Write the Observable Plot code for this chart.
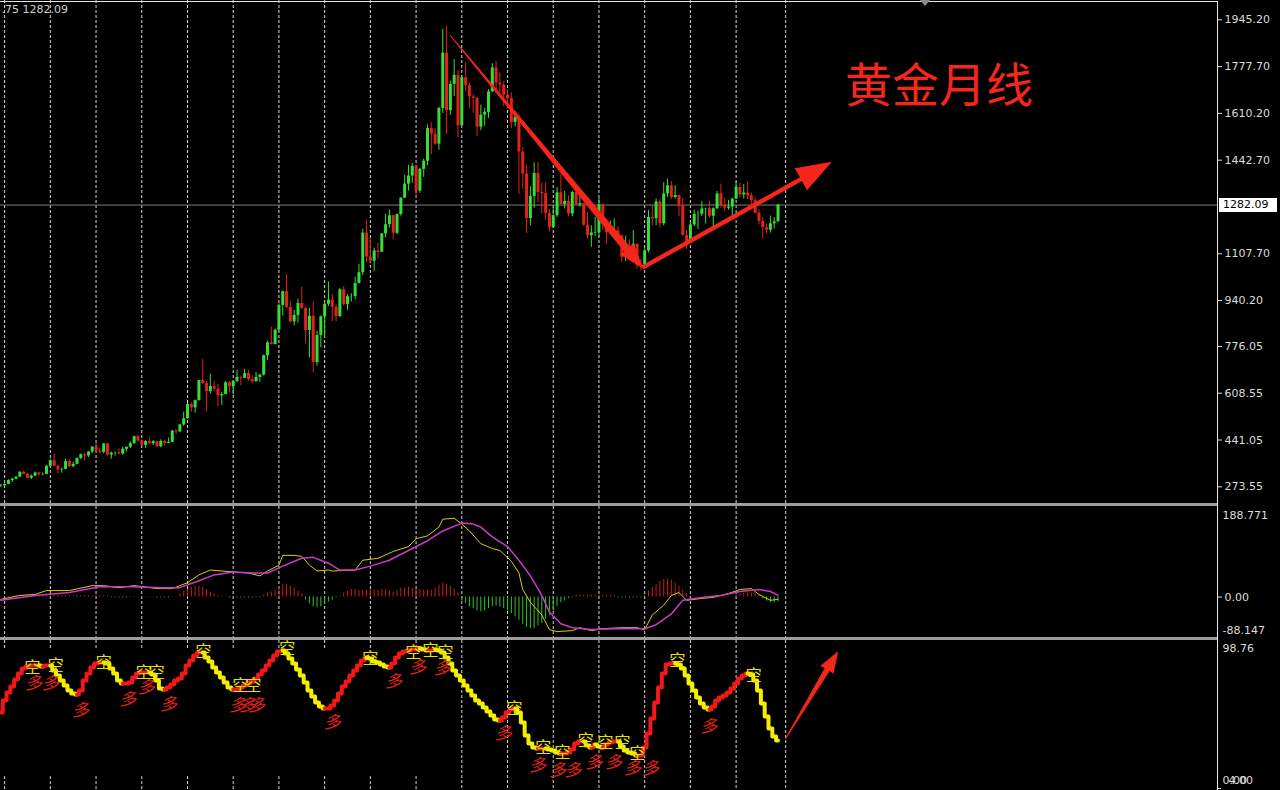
<!DOCTYPE html>
<html><head><meta charset="utf-8">
<script src="https://cdn.jsdelivr.net/npm/d3@7"></script>
<script src="https://cdn.jsdelivr.net/npm/@observablehq/plot@0.6"></script>
<style>
html,body{margin:0;padding:0;background:#000;}
#wrap{position:relative;width:1280px;height:790px;background:#000;overflow:hidden;}
.panel{position:absolute;left:0;}
.sep{position:absolute;left:0;width:1217px;height:3px;background:#9c9c9c;}
#title{position:absolute;left:845px;top:58px;font:47px "Noto Sans CJK SC",sans-serif;color:#f5261b;line-height:1;white-space:nowrap;}
#pbox{position:absolute;left:1219px;width:54px;height:14px;background:#fff;color:#000;font:11px "DejaVu Sans",sans-serif;line-height:14px;padding-left:4px;}
#tri{position:absolute;left:920px;top:0;width:0;height:0;border-left:5px solid transparent;border-right:5px solid transparent;border-top:6px solid #8a8a8a;}
</style></head><body><div id="wrap"></div>
<script>
// ---------------- DATA ----------------
// monthly gold candles, Dec 2001 (index 0) .. Dec 2018 (index 204)
const firstOpen = 275;
const closes = [277,
282,296,301,308,326,318,304,312,323,317,318,347,
367,347,334,336,364,346,354,375,388,384,398,416,
402,397,427,387,394,395,391,408,415,428,453,438,
422,435,428,435,417,436,429,433,473,470,495,517,
568,556,582,654,643,614,633,623,599,604,646,632,
650,665,662,679,657,650,665,673,743,789,783,834,
923,972,916,864,887,930,912,833,884,718,815,882,
927,942,916,883,979,926,954,955,1001,1040,1182,1096,
1081,1118,1113,1179,1212,1244,1181,1248,1307,1357,1386,1421,
1332,1410,1439,1556,1536,1500,1628,1826,1620,1714,1746,1566,
1738,1710,1669,1664,1561,1604,1614,1687,1773,1719,1712,1675,
1663,1578,1596,1472,1393,1234,1313,1395,1327,1323,1253,1202,
1244,1326,1284,1295,1250,1327,1282,1287,1210,1172,1182,1184,
1283,1212,1183,1184,1190,1172,1095,1135,1115,1142,1065,1061,
1118,1238,1233,1293,1215,1322,1351,1309,1316,1277,1173,1152,
1211,1249,1249,1268,1269,1242,1269,1322,1280,1271,1275,1303,
1345,1318,1325,1315,1298,1253,1224,1201,1192,1215,1222,1282.09];
const highs = [283,
284,299,304,310,327,329,322,316,327,324,323,350,
372,389,352,341,373,371,362,377,391,394,400,417,
428,412,428,429,398,398,409,415,416,434,455,457,
442,439,448,439,436,442,440,448,475,479,498,541,
572,574,584,654,730,651,677,651,640,612,650,650,
654,691,669,694,690,671,683,677,745,795,845,837,
928,975,1033,935,905,945,988,917,912,935,830,886,
930,1007,963,925,983,990,962,965,1024,1070,1195,1227,
1162,1128,1145,1180,1249,1265,1245,1250,1308,1388,1424,1431,
1424,1413,1447,1569,1577,1556,1632,1912,1921,1726,1803,1764,
1745,1791,1719,1677,1668,1640,1628,1695,1788,1796,1755,1724,
1695,1684,1617,1605,1488,1423,1348,1434,1434,1361,1361,1267,
1279,1345,1392,1331,1315,1332,1345,1322,1288,1255,1208,1238,
1307,1287,1224,1224,1232,1205,1175,1170,1157,1191,1142,1088,
1125,1263,1283,1304,1303,1362,1375,1367,1352,1318,1306,1191,
1220,1264,1261,1295,1271,1296,1272,1331,1357,1306,1299,1307,
1366,1361,1356,1365,1326,1309,1265,1236,1214,1243,1237,1284];
const lows = [271,
277,281,289,299,306,316,302,300,310,311,313,317,
343,345,320,322,335,342,341,352,370,366,378,392,
399,391,392,385,372,383,387,387,398,410,426,432,
420,411,425,421,414,413,418,428,432,460,467,490,
516,541,537,581,640,543,606,614,561,565,603,609,
602,648,636,661,652,642,648,648,670,726,781,781,
834,885,912,860,850,860,908,786,735,681,705,771,
805,918,865,865,880,920,905,935,943,1000,1030,1075,
1075,1045,1089,1113,1165,1200,1157,1176,1242,1305,1332,1360,
1309,1324,1381,1423,1462,1496,1478,1610,1534,1603,1670,1523,
1563,1689,1627,1611,1527,1548,1564,1592,1686,1692,1672,1635,
1626,1555,1562,1321,1338,1180,1208,1271,1291,1251,1227,1186,
1200,1238,1281,1268,1240,1240,1281,1274,1205,1161,1131,1170,
1167,1191,1142,1175,1170,1162,1077,1080,1099,1107,1052,1046,
1061,1111,1208,1208,1200,1207,1310,1302,1303,1241,1171,1123,
1146,1205,1195,1241,1214,1236,1205,1265,1271,1260,1264,1236,
1302,1307,1303,1302,1281,1250,1211,1160,1180,1182,1196,1221];
const lastPrice = 1282.09;
const headerText = ".75 1282.09";
const priceTicks = [1945.20,1777.70,1610.20,1442.70,1107.70,940.20,776.05,608.55,441.05,273.55];
// January bar indices (year separators)
const gridMonths = [1,13,25,37,49,61,73,85,97,109,121,133,145,157,169,181,193,206];

// MACD (DIF yellow, DEA magenta, histogram)
const difMonths = [0,5,9,12,18,24,27,31,35,41,45,49,52,55,58,61,65,68,70,73,74,77,79,81,83,86,87,93,95,99,103,107,109,112,115,116,119,121,123,126,129,131,134,136,137,139,142,144,146,150,152,155,158,163,167,169,171,174,176,178,180,184,187,191,194,197,199,202,204];
const difVals = [-5.2,3.5,5.7,14.4,14.4,25.3,25.3,20.9,25.3,18.8,18.8,31.8,49.3,60.2,58.0,55.8,53.6,47.1,58.0,71.1,92.9,92.9,90.7,71.1,58.0,60.2,58.0,60.2,82.0,86.4,101.6,112.5,130.0,136.5,156.1,173.6,175.8,162.7,147.4,119.1,108.2,103.8,79.8,53.6,16.6,-11.8,-40.1,-72.8,-77.2,-75.0,-68.5,-75.0,-70.7,-68.5,-68.5,-72.8,-40.1,-18.3,3.5,10.0,-7.4,-3.1,-0.9,7.9,16.6,18.8,5.7,-7.4,-5.2];
const deaMonths = [0,9,18,26,35,42,47,52,56,61,66,70,74,79,82,86,89,93,97,102,107,112,116,121,124,126,129,133,136,139,142,144,147,150,155,161,169,172,176,179,184,189,194,199,202,204];
const deaVals = [-7.4,3.5,10.0,23.1,23.1,20.9,20.9,36.2,49.3,55.8,53.6,53.6,68.9,86.4,88.5,75.4,60.2,60.2,68.9,82.0,103.8,125.6,147.4,164.9,162.7,156.1,134.3,112.5,82.0,47.1,3.5,-33.6,-59.7,-68.5,-72.8,-70.7,-70.7,-61.9,-37.9,-7.4,-0.9,3.5,12.2,16.6,12.2,3.5];
const histVals = [1,1,1,1,
3,3,3,3,3,3,3,3,3,3,3,3,3,3,3,3,3,3,3,3,3,3,3,3,3,
-2,-2,-2,-2,-2,
1,1,1,1,1,1,1,
-2,-2,-2,-2,
1,1,
7,13,17,22,24,24,22,17,11,7,3,1,
0.5,
-2,-2,-2,-2,-2,-2,-2,-2,-2,
4,9,11,15,22,28,28,24,20,13,7,
-7,-15,-22,-24,-22,-17,-11,-7,-2,
2,9,13,17,17,15,15,15,17,15,15,17,17,13,11,15,20,20,22,20,17,17,15,15,15,20,26,31,28,24,17,9,
-9,-15,-22,-26,-31,-33,-31,-26,-22,-20,-22,-26,-31,-37,-44,-52,-61,-68,-70,-70,-65,-59,-50,-41,-31,-22,-13,-9,-4,-2,
4,4,4,4,4,4,4,4,4,4,4,
-2,-2,-2,-2,-2,-2,-2,
4,13,22,28,35,39,39,37,31,24,15,7,2,
1,1,1,1,1,1,1,1,1,1,1,
4,7,9,9,9,7,4,
-4,-9,-13,-13,-11];
const macdMax = 188.771, macdMin = -88.147;

// oscillator (bottom panel), one value per month
const oscVals = [51.1,59.1,64.5,68.5,73.2,77.3,80.6,82.0,82.6,82.6,82.6,82.0,82.6,82.6,79.3,75.9,72.6,69.2,65.8,63.8,
63.1,65.8,72.6,77.3,81.3,84.0,84.6,84.6,84.0,80.6,77.3,72.6,70.5,70.5,71.2,74.6,77.3,77.9,77.9,77.9,
76.6,72.6,67.2,66.5,67.9,69.9,72.6,73.9,77.3,82.6,86.0,89.3,91.4,91.4,88.0,85.3,81.3,77.9,74.6,71.2,
67.9,66.5,66.5,67.9,69.2,70.5,71.9,73.9,76.6,79.3,82.6,86.0,89.3,92.0,92.7,90.7,87.3,84.0,79.9,75.9,
71.2,65.8,61.8,57.8,55.1,53.7,53.7,55.8,59.1,63.8,68.5,71.9,75.9,79.3,82.6,86.0,88.0,87.3,85.3,84.6,
83.3,82.0,81.3,84.0,88.0,90.7,92.0,92.7,93.4,93.4,94.1,93.4,92.7,92.7,93.4,92.7,91.4,88.0,84.0,79.3,
75.9,72.6,69.2,65.8,62.5,59.1,57.1,54.4,51.7,49.0,46.4,45.7,47.7,51.1,53.1,53.7,51.1,44.3,35.6,30.2,
27.5,26.9,26.9,26.9,26.2,25.5,24.2,23.5,23.5,24.2,26.2,30.2,31.6,31.6,28.9,27.5,29.6,28.2,27.5,29.6,
30.9,31.6,31.6,28.2,25.5,24.2,23.5,22.2,22.2,27.5,36.9,47.0,57.8,67.9,77.3,83.3,84.0,84.0,83.3,80.6,
75.9,70.5,65.8,61.1,57.1,54.4,53.1,55.1,59.1,61.1,62.5,64.5,67.2,70.5,73.9,75.9,77.3,76.6,72.6,65.8,
57.1,48.4,40.3,34.9,32.2];
const oscMax = 98.76;
// signal labels on the oscillator
const kongI = [8.3,14.4,27.0,37.5,40.9,53.2,62.9,66.3,75.2,97.0,108.3,112.8,116.7,134.8,142.4,147.4,153.5,158.7,163.2,167.1,177.6,197.6];
const kongV = [81.3,82.6,84.6,77.9,77.9,92.0,69.2,69.2,94.1,87.3,91.4,92.7,91.4,53.7,27.5,24.2,32.2,30.9,30.9,23.5,86.0,75.9];
const duoI = [8.6,13.0,20.9,33.3,38.2,44.0,62.1,64.7,67.1,87.0,103.1,109.4,115.9,131.9,140.9,146.1,150.1,155.6,160.8,165.8,170.5,185.8];
const duoV = [70.6,70.6,52.4,59.8,67.9,56.4,55.8,55.8,55.8,44.4,71.9,81.3,80.6,37.0,15.5,12.1,12.1,17.5,17.5,13.4,13.4,41.7];

// hand-drawn trend arrows: [fromIndex, fromValue, toIndex, toValue]
const arrowDown = [118.0, 1889, 168.4, 1058];
const arrowUp = [168.4, 1058, 217.8, 1434];
const arrowOsc = [206.0, 33.6, 219.6, 91.4];
const titleText = "黄金月线";

// ---------------- CHART ----------------
const PW = 1217;
const xDomain = [-0.08, 319.35];
const topDomain = [213.8, 2014.3];
const macdDomain = [-90.4, 202.0];
const oscDomain = [-1.34, 99.43];
const UP = "#35e036", DOWN = "#e3211d", ARROW = "#f5261b";
const GRID = {stroke: "#d6d6d6", strokeDasharray: "3,2"};
const AX = "#dcdcdc";
const STYLE = {background: "transparent", color: AX, fontFamily: "DejaVu Sans, sans-serif", fontSize: "11px", overflow: "visible"};

const candles = closes.map((c, i) => ({i, o: i === 0 ? firstOpen : closes[i - 1], c, h: highs[i], l: lows[i]}));
const col = d => d.c >= d.o ? UP : DOWN;

function arrowMarks(a, xs, ys, headLen, headR, shaftR, uniform) {
  const px1 = xs(a[0]), py1 = ys(a[1]), px2 = xs(a[2]), py2 = ys(a[3]);
  const dx = px2 - px1, dy = py2 - py1, L = Math.hypot(dx, dy);
  const ang = Math.atan2(dx, -dy) * 180 / Math.PI;
  const bx = px2 - dx / L * headLen * 0.85, by = py2 - dy / L * headLen * 0.85;
  const base = {x: xs.invert(bx), y: ys.invert(by)};
  const tip = {x: a[2], y: a[3]};
  const m = [];
  if (uniform) {
    m.push(Plot.link([0], {x1: a[0], y1: a[1], x2: base.x, y2: base.y, stroke: ARROW, strokeWidth: shaftR * 2}));
  } else {
    m.push(Plot.vector([base], {x: "x", y: "y", rotate: ang + 180, length: L - headLen * 0.85, r: shaftR, shape: "spike", anchor: "start", fill: ARROW, stroke: ARROW, strokeWidth: 1}));
  }
  m.push(Plot.vector([tip], {x: "x", y: "y", rotate: ang, length: headLen, r: headR, shape: "spike", anchor: "end", fill: ARROW, stroke: ARROW, strokeWidth: 1}));
  return m;
}

const xs = d3.scaleLinear(xDomain, [0, PW]);
const ysTop = d3.scaleLinear(topDomain, [503, 0]);
const ysOsc = d3.scaleLinear(oscDomain, [150, 0]);

const wrap = document.getElementById("wrap");

// --- price panel
const topChart = Plot.plot({
  width: 1280, height: 503, marginLeft: 0, marginRight: 63, marginTop: 0, marginBottom: 0,
  x: {domain: xDomain, axis: null}, y: {domain: topDomain},
  style: STYLE,
  marks: [
    Plot.ruleX(gridMonths, GRID),
    Plot.ruleY([lastPrice], {stroke: "#7c7c7c"}),
    Plot.ruleX(candles, {x: "i", y1: "l", y2: "h", stroke: col, strokeWidth: 1}),
    Plot.ruleX(candles, {x: "i", y1: "o", y2: "c", stroke: col, strokeWidth: 3}),
    ...arrowMarks(arrowDown, xs, ysTop, 24, 8, 3.4, false),
    ...arrowMarks(arrowUp, xs, ysTop, 34, 12, 2.2, true),
    Plot.axisY({anchor: "right", ticks: priceTicks, tickSize: 4, tickPadding: 3, tickFormat: d => d.toFixed(2), color: AX}),
    Plot.text([headerText], {frameAnchor: "top-left", dx: 1, dy: 5, lineAnchor: "top", textAnchor: "start", fill: "#d0d0d0"})
  ]
});
topChart.classList.add("panel"); topChart.style.top = "0px";
wrap.appendChild(topChart);

// --- MACD panel
const macdChart = Plot.plot({
  width: 1280, height: 131, marginLeft: 0, marginRight: 63, marginTop: 0, marginBottom: 0,
  x: {domain: xDomain, axis: null}, y: {domain: macdDomain},
  style: STYLE,
  marks: [
    Plot.ruleX(gridMonths, GRID),
    Plot.ruleX(histVals, {x: (d, i) => i, y1: 0, y2: d => d, stroke: d => d >= 0 ? "#c81d1d" : "#2fc42f", strokeWidth: 1}),
    Plot.line(difMonths, {x: d => d, y: (d, i) => difVals[i], stroke: "#d6d300", strokeWidth: 1}),
    Plot.line(deaMonths, {x: d => d, y: (d, i) => deaVals[i], stroke: "#c93bc9", strokeWidth: 1.5}),
    Plot.axisY({anchor: "right", ticks: [0], tickSize: 4, tickPadding: 3, tickFormat: d => d.toFixed(2), color: AX}),
    Plot.text([macdMax], {y: d => d, frameAnchor: "right", dx: 5, dy: 3, textAnchor: "start", text: d => d.toFixed(3), fill: AX}),
    Plot.text([macdMin], {y: d => d, frameAnchor: "right", dx: 5, dy: -6, textAnchor: "start", text: d => d.toFixed(3), fill: AX})
  ]
});
macdChart.classList.add("panel"); macdChart.style.top = "506px";
wrap.appendChild(macdChart);

// --- oscillator panel
const runs = [];
let runId = -1, prevUp = null;
for (let i = 1; i < oscVals.length; i++) {
  const up = oscVals[i] >= oscVals[i - 1];
  if (up !== prevUp) { runId++; prevUp = up; runs.push({i: i - 1, v: oscVals[i - 1], z: runId, c: up ? "#f01818" : "#f2f000"}); }
  runs.push({i, v: oscVals[i], z: runId, c: up ? "#f01818" : "#f2f000"});
}
const kong = kongI.map((x, k) => ({x, y: kongV[k]}));
const duo = duoI.map((x, k) => ({x, y: duoV[k]}));
const gridFull = gridMonths.filter(m => m > 112);
const gridPart = gridMonths.filter(m => m <= 112);

const oscChart = Plot.plot({
  width: 1280, height: 150, marginLeft: 0, marginRight: 63, marginTop: 0, marginBottom: 0,
  x: {domain: xDomain, axis: null}, y: {domain: oscDomain, axis: null},
  style: STYLE,
  marks: [
    Plot.ruleX(gridFull, GRID),
    Plot.ruleX(gridPart, {x: d => d, y1: 99.43, y2: 92.7, ...GRID}),
    Plot.ruleX(gridPart, {x: d => d, y1: 8.0, y2: -1.34, ...GRID}),
    Plot.line(runs, {x: "i", y: "v", z: "z", stroke: "c", curve: "step", strokeWidth: 4}),
    Plot.text(duo, {x: "x", y: "y", text: () => "多", fill: "#e3201b", fontSize: 17, fontStyle: "italic", fontFamily: "Noto Sans CJK SC"}),
    Plot.text(kong, {x: "x", y: "y", text: () => "空", fill: "#e4e200", fontSize: 16, fontFamily: "Noto Sans CJK SC"}),
    ...arrowMarks(arrowOsc, xs, ysOsc, 20, 7, 2.5, false),
    Plot.ruleY([0], {x1: 319.35, x2: 320.4, stroke: AX}),
    Plot.text([oscMax], {y: d => d, frameAnchor: "right", dx: 5, dy: 7, textAnchor: "start", text: d => d.toFixed(2), fill: AX}),
    Plot.text(["0.00"], {y: 0, frameAnchor: "right", dx: 5, dy: -8, textAnchor: "start", fill: AX}),
    Plot.text(["4.00"], {y: 0, frameAnchor: "right", dx: 11, dy: -8, textAnchor: "start", fill: AX})
  ]
});
oscChart.classList.add("panel"); oscChart.style.top = "640px";
wrap.appendChild(oscChart);

// --- chrome: separators, borders, current price box, title
function div(css, cls, txt) { const d = document.createElement("div"); if (cls) d.className = cls; if (css) d.style.cssText = css; if (txt) d.textContent = txt; wrap.appendChild(d); return d; }
div("top:503px", "sep");
div("top:637px", "sep");
div("position:absolute;left:0;top:1px;width:1218px;height:1px;background:#e6e6e6");
div("position:absolute;left:1217px;top:1px;width:1px;height:789px;background:#e6e6e6");
const py = topChart.scale("y").apply(lastPrice);
const box = div("", null, lastPrice.toFixed(2)); box.id = "pbox"; box.style.top = (py - 7) + "px";
const t = div("", null, titleText); t.id = "title";
const tr = div("", null); tr.id = "tri";
</script>
</body></html>
